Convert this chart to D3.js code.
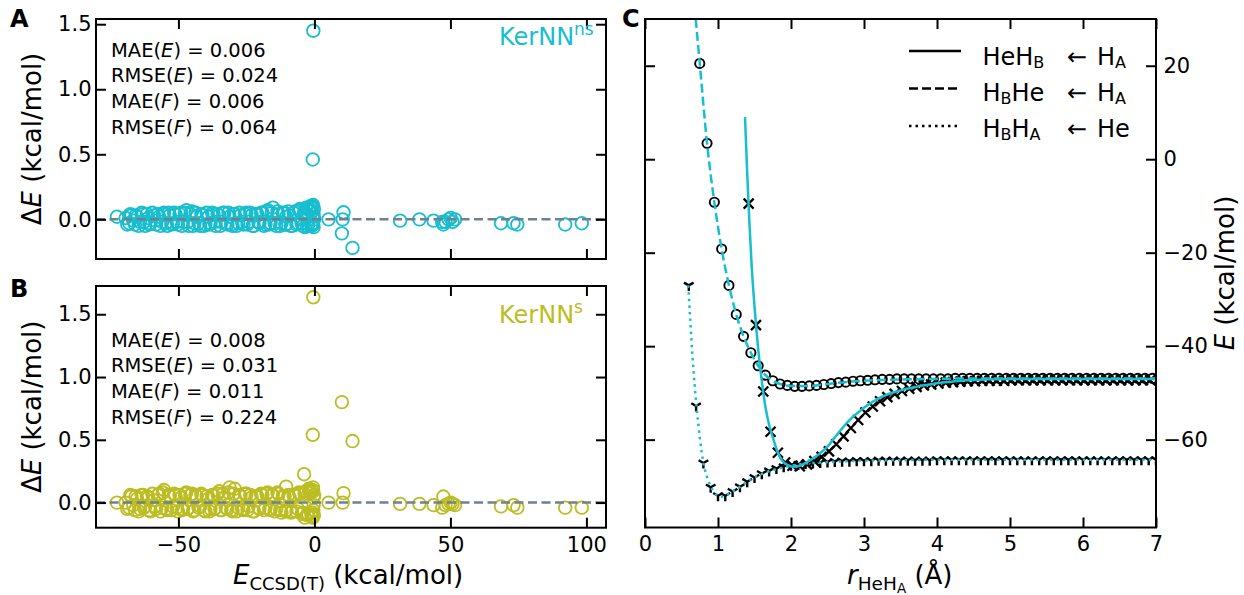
<!DOCTYPE html>
<meta charset="utf-8">
<style>
  body { margin: 0; background: #fff; }
  svg { display: block; font-family: "DejaVu Sans", sans-serif; }
  .frame { fill: none; stroke: #000; stroke-width: 2; }
  .axis line { stroke: #000; stroke-width: 2; }
  .axis text { fill: #000; }
</style>
<body>
<svg id="fig"></svg>
<script src="https://d3js.org/d3.v7.min.js"></script>
<script>
var W = 1244, H = 595;
var cyan = "#17becf", olive = "#bcbd22";

// ---- panels A / B: reference energy (shared) and errors of the two models
var eRef = [
  -69.4, -68.1, -67.3, -66.0, -65.2, -64.1, -63.0, -62.2, -61.1, -60.3,
  -59.0, -58.2, -57.1, -56.0, -55.3, -54.1, -53.2, -52.0, -51.1, -50.2,
  -49.0, -48.3, -47.1, -46.2, -45.0, -44.1, -43.3, -42.0, -41.2, -40.1,
  -39.0, -38.2, -37.1, -36.3, -35.0, -34.2, -33.1, -32.0, -31.2, -30.1,
  -29.3, -28.0, -27.2, -26.1, -25.0, -24.2, -23.1, -22.3, -21.0, -20.2,
  -19.1, -18.0, -17.2, -16.1, -15.3, -14.0, -13.2, -12.1, -11.0, -10.3,
  -9.1, -8.2, -7.0, -6.1, -5.3, -4.2, -3.1, -2.3, -1.5, -1.0,
  -68.8, -67.7, -66.6, -65.7, -64.6, -63.5, -62.7, -61.6, -60.7, -59.6,
  -58.6, -57.6, -56.6, -55.7, -54.6, -53.6, -52.6, -51.6, -50.6, -49.6,
  -48.7, -47.6, -46.6, -45.6, -44.6, -43.7, -42.6, -41.6, -40.6, -39.6,
  -38.6, -37.6, -36.7, -35.6, -34.6, -33.6, -32.6, -31.6, -30.6, -29.7,
  -28.6, -27.6, -26.6, -25.6, -24.6, -23.6, -22.7, -21.6, -20.6, -19.6,
  -18.6, -17.6, -16.6, -15.7, -14.6, -13.6, -12.6, -11.6, -10.7, -9.6,
  -8.6, -7.6, -6.6, -5.7, -4.7, -3.6, -2.7, -1.9, -1.2, -0.9,
  -0.8, -0.6, -0.5, -0.4, -0.3, -0.2, -0.1, -0.3, -0.5, -0.7, -2.0, -3.5,
  -72.6, -0.4, -0.6, -3.8, -10.4, 5.2, 10.7, 10.4, 10.1, 14.0,
  31.5, 38.6, 43.8, 47.4, 47.0, 48.2, 49.3, 50.1, 50.8, 51.7,
  68.6, 73.2, 74.6, 92.2, 98.3
];
var errNs = [
  0.01, -0.03, 0.03, -0.04, 0.02, -0.02, 0.04, -0.05, 0.01, -0.03,
  0.03, -0.04, 0.02, -0.02, 0.05, -0.05, 0.03, -0.03, 0.04, -0.04,
  0.05, -0.02, 0.07, -0.05, 0.06, -0.03, 0.02, -0.05, 0.03, -0.04,
  0.02, -0.03, 0.04, -0.05, 0.03, -0.02, 0.05, -0.04, 0.02, -0.05,
  0.04, -0.03, 0.03, -0.04, 0.05, -0.02, 0.03, -0.05, 0.04, -0.03,
  0.05, -0.04, 0.07, -0.03, 0.09, -0.05, 0.04, -0.03, 0.05, -0.04,
  0.03, -0.05, 0.06, -0.03, 0.08, -0.05, 0.09, -0.04, 0.10, -0.05,
  -0.04, 0.04, -0.01, 0.03, -0.05, 0.05, -0.02, 0.04, -0.04, 0.05,
  -0.01, 0.04, -0.05, 0.04, -0.03, 0.05, -0.04, 0.05, -0.02, 0.04,
  -0.05, 0.05, -0.02, 0.04, -0.05, 0.05, -0.03, 0.04, -0.05, 0.05,
  -0.04, 0.05, -0.02, 0.04, -0.05, 0.05, -0.03, 0.05, -0.04, 0.04,
  -0.05, 0.05, -0.02, 0.04, -0.04, 0.05, -0.05, 0.04, -0.02, 0.05,
  -0.05, 0.06, -0.04, 0.05, -0.03, 0.06, -0.05, 0.05, -0.04, 0.06,
  -0.05, 0.05, -0.04, 0.07, -0.03, 0.06, -0.05, 0.08, -0.04, 0.09,
  0.06, -0.03, 0.11, 0.02, -0.06, 0.08, 0.00, 0.04, -0.04, 0.10, 0.07, -0.06,
  0.02, 1.45, 0.46, 0.05, 0.02, 0.00, 0.054, 0.00, -0.108, -0.22,
  -0.01, 0.00, -0.01, -0.04, -0.02, -0.02, 0.00, 0.01, -0.02, 0.00,
  -0.03, -0.03, -0.04, -0.04, -0.03
];
var errS = [
  0.00, -0.04, 0.05, -0.06, 0.03, -0.05, 0.06, -0.03, 0.04, -0.07,
  0.02, -0.05, 0.07, -0.04, 0.10, -0.06, 0.05, -0.03, 0.06, -0.07,
  0.04, -0.05, 0.08, -0.04, 0.07, -0.06, 0.05, -0.03, 0.06, -0.07,
  0.03, -0.05, 0.06, -0.04, 0.09, -0.06, 0.04, -0.05, 0.12, -0.07,
  0.11, -0.04, 0.05, -0.06, 0.07, -0.03, 0.04, -0.07, 0.05, -0.05,
  0.06, -0.04, 0.08, -0.06, 0.06, -0.05, 0.07, -0.08, 0.05, -0.06,
  0.04, -0.07, 0.06, -0.05, 0.07, -0.08, 0.09, -0.09, 0.08, -0.11,
  -0.05, 0.06, -0.02, 0.05, -0.07, 0.06, -0.04, 0.05, -0.06, 0.07,
  -0.03, 0.06, -0.07, 0.08, -0.05, 0.06, -0.06, 0.07, -0.04, 0.06,
  -0.06, 0.07, -0.05, 0.06, -0.07, 0.06, -0.04, 0.07, -0.06, 0.05,
  -0.07, 0.06, -0.05, 0.07, -0.06, 0.07, -0.04, 0.08, -0.06, 0.07,
  -0.07, 0.06, -0.05, 0.07, -0.06, 0.06, -0.07, 0.05, -0.04, 0.07,
  -0.06, 0.07, -0.05, 0.06, -0.07, 0.08, -0.06, 0.05, -0.07, 0.06,
  -0.08, 0.06, -0.07, 0.08, -0.09, 0.07, -0.10, 0.09, -0.08, 0.10,
  0.10, -0.12, 0.12, -0.06, 0.04, -0.10, 0.06, -0.02, 0.09, -0.08, 0.11, -0.12,
  0.00, 1.635, 0.54, 0.226, 0.127, 0.00, 0.075, 0.00, 0.80, 0.49,
  -0.01, -0.01, -0.02, 0.048, -0.04, -0.02, -0.01, 0.00, -0.01, -0.02,
  -0.03, -0.02, -0.04, -0.04, -0.04
];
var statNames = [["MAE", "E"], ["RMSE", "E"], ["MAE", "F"], ["RMSE", "F"]];
var statsNs = ["0.006", "0.024", "0.006", "0.064"];
var statsS = ["0.008", "0.031", "0.011", "0.224"];
var scatterXTicks = [-50, 0, 50, 100];
var scatterYTicks = [0, 0.5, 1.0, 1.5];

// ---- panel C: reference points (markers) and model curves (cyan)
var rTri = [0.6, 0.7, 0.8, 0.9, 1.0, 1.1, 1.2, 1.3, 1.4, 1.5, 1.6, 1.7, 1.8, 1.9, 2.0, 2.1, 2.2, 2.3, 2.4, 2.5,
  2.6, 2.7, 2.8, 2.9, 3.0, 3.1, 3.2, 3.3, 3.4, 3.5, 3.6, 3.7, 3.8, 3.9, 4.0, 4.1, 4.2, 4.3, 4.4, 4.5,
  4.6, 4.7, 4.8, 4.9, 5.0, 5.1, 5.2, 5.3, 5.4, 5.5, 5.6, 5.7, 5.8, 5.9, 6.0, 6.1, 6.2, 6.3, 6.4, 6.5,
  6.6, 6.7, 6.8, 6.9, 7.0];
var eTri = [-27.0, -52.8, -65.0, -70.2, -72.0, -72.0, -71.1, -70.1, -69.0, -68.1, -67.3, -66.7, -66.2, -65.8, -65.5, -65.3, -65.1, -65.0, -64.9, -64.8,
  -64.7, -64.6, -64.6, -64.5, -64.5, -64.5, -64.4, -64.4, -64.4, -64.4, -64.4, -64.4, -64.4, -64.4, -64.3, -64.3, -64.3, -64.3, -64.3, -64.3,
  -64.3, -64.3, -64.3, -64.3, -64.3, -64.3, -64.3, -64.3, -64.3, -64.3, -64.3, -64.3, -64.3, -64.3, -64.3, -64.3, -64.3, -64.3, -64.3, -64.3,
  -64.3, -64.3, -64.3, -64.3, -64.3];
var rCirc = [0.75, 0.85, 0.95, 1.05, 1.15, 1.25, 1.35, 1.45, 1.55, 1.65, 1.75, 1.85, 1.95, 2.05, 2.15, 2.25, 2.35, 2.45, 2.55, 2.65,
  2.75, 2.85, 2.95, 3.05, 3.15, 3.25, 3.35, 3.45, 3.55, 3.65, 3.75, 3.85, 3.95, 4.05, 4.15, 4.25, 4.35, 4.45, 4.55, 4.65,
  4.75, 4.85, 4.95, 5.05, 5.15, 5.25, 5.35, 5.45, 5.55, 5.65, 5.75, 5.85, 5.95, 6.05, 6.15, 6.25, 6.35, 6.45, 6.55, 6.65,
  6.75, 6.85, 6.95];
var eCirc = [20.5, 3.4, -9.2, -19.2, -27.0, -33.2, -37.9, -41.4, -44.2, -46.2, -47.4, -48.1, -48.4, -48.6, -48.6, -48.5, -48.4, -48.2, -48.0, -47.8,
  -47.7, -47.5, -47.4, -47.3, -47.2, -47.1, -47.1, -47.0, -47.0, -47.0, -47.0, -47.0, -47.0, -47.0, -47.0, -46.9, -46.9, -46.9, -46.9, -46.9,
  -46.9, -46.9, -46.9, -46.9, -46.9, -46.9, -46.9, -46.9, -46.9, -46.9, -46.9, -46.9, -46.9, -46.9, -46.9, -46.9, -46.9, -46.9, -46.9, -46.9,
  -46.9, -46.9, -46.9];
var rCross = [1.42, 1.52, 1.62, 1.72, 1.82, 1.92, 2.02, 2.12, 2.22, 2.32, 2.42, 2.52, 2.62, 2.72, 2.82, 2.92, 3.02, 3.12, 3.22, 3.32,
  3.42, 3.52, 3.62, 3.72, 3.82, 3.92, 4.02, 4.12, 4.22, 4.32, 4.42, 4.52, 4.62, 4.72, 4.82, 4.92, 5.02, 5.12, 5.22, 5.32,
  5.42, 5.52, 5.62, 5.72, 5.82, 5.92, 6.02, 6.12, 6.22, 6.32, 6.42, 6.52, 6.62, 6.72, 6.82, 6.92];
var eCross = [-9.5, -35.5, -49.7, -58.3, -62.8, -64.9, -65.6, -65.7, -65.3, -64.6, -63.7, -62.5, -61.0, -59.3, -57.5, -55.8, -54.2, -52.9, -51.8, -50.9,
  -50.2, -49.6, -49.1, -48.7, -48.4, -48.2, -48.0, -47.8, -47.7, -47.6, -47.5, -47.5, -47.4, -47.4, -47.4, -47.4, -47.3, -47.3, -47.3, -47.3,
  -47.3, -47.3, -47.3, -47.3, -47.3, -47.3, -47.3, -47.3, -47.3, -47.3, -47.3, -47.3, -47.3, -47.3, -47.3, -47.3];

var solidR = [1.37, 1.40, 1.43, 1.46, 1.50, 1.55, 1.60, 1.65, 1.70, 1.76, 1.82, 1.88, 1.95, 2.03, 2.12, 2.21, 2.30, 2.40, 2.50, 2.58,
  2.67, 2.76, 2.85, 2.95, 3.04, 3.13, 3.22, 3.31, 3.42, 3.54, 3.66, 3.77, 3.90, 4.02, 4.20, 4.40, 4.70, 5.00, 5.50, 6.00, 6.50, 7.00];
var solidE = [9.0, -3.0, -13.5, -22.5, -31.5, -40.5, -47.5, -53.0, -56.8, -60.0, -62.8, -64.5, -65.4, -65.8, -65.6, -64.9, -64.0, -62.9, -61.5, -59.9,
  -58.2, -56.5, -55.1, -53.8, -52.7, -51.8, -51.0, -50.4, -49.8, -49.3, -48.9, -48.5, -48.2, -47.9, -47.6, -47.3, -47.1, -47.0, -47.0, -47.0, -47.0, -47.0];
var dashR = [0.695, 0.75, 0.85, 0.95, 1.05, 1.15, 1.25, 1.35, 1.45, 1.55, 1.65, 1.75, 1.85, 2.0, 2.2, 2.4, 2.6, 2.8, 3.0, 3.3, 3.6, 4.0, 4.5, 5.0, 6.0, 7.0];
var dashE = [30.0, 20.5, 3.4, -9.2, -19.2, -27.0, -33.2, -37.9, -41.4, -44.2, -46.2, -47.4, -48.1, -48.5, -48.5, -48.3, -47.9, -47.6, -47.4, -47.2, -47.1, -47.0, -46.9, -46.9, -46.9, -46.9];
var dotR = [0.593, 0.65, 0.708, 0.75, 0.80, 0.85, 0.90, 0.95, 1.0, 1.05, 1.1, 1.2, 1.3, 1.4, 1.5, 1.62, 1.75, 1.85, 2.0, 2.16, 2.4, 2.62, 3.0, 3.5, 4.0, 5.0, 6.0, 7.0];
var dotE = [-27.0, -42.0, -53.3, -59.5, -65.0, -68.0, -70.0, -71.3, -72.0, -72.2, -72.0, -71.1, -70.1, -69.0, -68.1, -67.2, -66.5, -66.1, -65.6, -65.2, -64.9, -64.7, -64.5, -64.4, -64.3, -64.3, -64.3, -64.3];
var cXTicks = [0, 1, 2, 3, 4, 5, 6, 7];
var cYTicks = [-60, -40, -20, 0, 20];
var legendRows = [
  { dash: null, left: [["HeH", ""], ["B", "sub"]], right: [["H", ""], ["A", "sub"]] },
  { dash: "9,4", left: [["H", ""], ["B", "sub"], ["He", ""]], right: [["H", ""], ["A", "sub"]] },
  { dash: "2.5,4", left: [["H", ""], ["B", "sub"], ["H", ""], ["A", "sub"]], right: [["He", ""]] }
];

var svg = d3.select("#fig").attr("width", W).attr("height", H);
svg.append("rect").attr("width", W).attr("height", H).attr("fill", "#fff");

function drawAxes(g, x, y, o) {
  var xl = x.range()[0], xr = x.range()[1], yb = y.range()[0], yt = y.range()[1];
  var ax = [
    [d3.axisBottom(x).tickValues(o.xTicks).tickSize(-10).tickPadding(9).tickFormat(o.xLabels ? d3.format("d") : ""), 0, yb],
    [d3.axisTop(x).tickValues(o.xTicks).tickSize(-10).tickFormat(""), 0, yt],
    [d3.axisLeft(y).tickValues(o.yTicks).tickSize(-10).tickPadding(4.5).tickFormat(o.yLeft ? o.yFormat : ""), xl, 0],
    [d3.axisRight(y).tickValues(o.yTicks).tickSize(-10).tickPadding(7.5).tickFormat(o.yRight ? o.yFormat : ""), xr, 0]
  ];
  ax.forEach(function (a) {
    var s = g.append("g").attr("class", "axis")
      .attr("transform", "translate(" + a[1] + "," + a[2] + ")")
      .call(a[0]);
    s.attr("font-size", 21).attr("font-family", null);
    s.select(".domain").remove();
  });
  g.append("rect").attr("class", "frame")
    .attr("x", xl).attr("y", yt).attr("width", xr - xl).attr("height", yb - yt);
}

// ---------- scatter panels ----------
function scatterPanel(top, bottom, yDomain, errs, color, stats, name, sup, statY, nameY, letter, letterY, xLabels) {
  var x = d3.scaleLinear().domain([-80.3, 107.2]).range([96, 606]);
  var y = d3.scaleLinear().domain(yDomain).range([bottom, top]);
  var g = svg.append("g");

  g.append("g").selectAll("circle")
    .data(eRef)
    .join("circle")
    .attr("cx", function (d) { return x(d); })
    .attr("cy", function (d, i) { return y(errs[i]); })
    .attr("r", 6.3)
    .attr("fill", "none")
    .attr("stroke", color)
    .attr("stroke-width", 1.8);

  g.append("line")
    .attr("x1", 96).attr("x2", 606)
    .attr("y1", y(0)).attr("y2", y(0))
    .attr("stroke", "#708090").attr("stroke-width", 2.5)
    .attr("stroke-dasharray", "9,4.5");

  drawAxes(g, x, y, { xTicks: scatterXTicks, yTicks: scatterYTicks, xLabels: xLabels, yLeft: true, yFormat: d3.format(".1f") });

  // stats box
  statNames.forEach(function (s, i) {
    var t = g.append("text").attr("x", 111).attr("y", statY + i * 25.6).attr("font-size", 19.5);
    t.append("tspan").text(s[0] + "(");
    t.append("tspan").attr("font-style", "italic").text(s[1]);
    t.append("tspan").text(") = " + stats[i]);
  });

  var k = g.append("text").attr("x", 499).attr("y", nameY).attr("font-size", 24).attr("fill", color);
  k.append("tspan").text(name);
  k.append("tspan").attr("font-size", 17).attr("dy", -10).text(sup);

  var yl = g.append("text")
    .attr("transform", "translate(41," + ((top + bottom) / 2) + ") rotate(-90)")
    .attr("text-anchor", "middle").attr("font-size", 26);
  yl.append("tspan").text("Δ");
  yl.append("tspan").attr("font-style", "italic").text("E");
  yl.append("tspan").text(" (kcal/mol)");

  svg.append("text").attr("x", 10).attr("y", letterY).attr("font-size", 24).attr("font-weight", "bold").text(letter);
}

scatterPanel(19, 259, [-0.305, 1.54], errNs, cyan, statsNs, "KerNN", "ns", 56.7, 45, "A", 27, false);
scatterPanel(286, 527.7, [-0.2, 1.725], errS, olive, statsS, "KerNN", "s", 346.7, 322.7, "B", 296.5, true);

var xl = svg.append("text").attr("x", 233).attr("y", 583.5).attr("font-size", 26);
xl.append("tspan").attr("font-style", "italic").text("E");
xl.append("tspan").attr("font-size", 18).attr("dy", 6).text("CCSD(T)");
xl.append("tspan").attr("dy", -6).text(" (kcal/mol)");

// ---------- panel C ----------
var cx = d3.scaleLinear().domain([0, 7]).range([645, 1156]);
var cy = d3.scaleLinear().domain([-78.8, 30]).range([527.5, 19]);
var gc = svg.append("g");

svg.append("clipPath").attr("id", "clipC")
  .append("rect").attr("x", 645).attr("y", 19).attr("width", 511).attr("height", 508.5);

var plot = gc.append("g").attr("clip-path", "url(#clipC)");

// reference markers
plot.append("g").selectAll("circle")
  .data(rCirc)
  .join("circle")
  .attr("cx", function (d) { return cx(d); })
  .attr("cy", function (d, i) { return cy(eCirc[i]); })
  .attr("r", 4.6)
  .attr("fill", "none").attr("stroke", "#000").attr("stroke-width", 1.9);

plot.append("g").selectAll("path")
  .data(rCross)
  .join("path")
  .attr("transform", function (d, i) { return "translate(" + cx(d) + "," + cy(eCross[i]) + ")"; })
  .attr("d", "M-5,-5L5,5M-5,5L5,-5")
  .attr("stroke", "#000").attr("stroke-width", 2.3).attr("fill", "none");

plot.append("g").selectAll("path")
  .data(rTri)
  .join("path")
  .attr("transform", function (d, i) { return "translate(" + cx(d) + "," + cy(eTri[i]) + ")"; })
  .attr("d", "M0,0L0,5.5M0,0L-4.8,-2.8M0,0L4.8,-2.8")
  .attr("stroke", "#000").attr("stroke-width", 2.4).attr("fill", "none");

// model curves
var line = d3.line()
  .x(function (d) { return cx(d[0]); })
  .y(function (d) { return cy(d[1]); })
  .curve(d3.curveMonotoneX);

[[solidR, solidE, null], [dashR, dashE, "9,4"], [dotR, dotE, "2.5,4.1"]].forEach(function (s) {
  plot.append("path")
    .datum(d3.zip(s[0], s[1]))
    .attr("d", line)
    .attr("fill", "none")
    .attr("stroke", cyan)
    .attr("stroke-width", 2.5)
    .attr("stroke-dasharray", s[2]);
});

drawAxes(gc, cx, cy, { xTicks: cXTicks, yTicks: cYTicks, xLabels: true, yRight: true, yFormat: d3.format("d") });

// legend
var legY = [51, 88.5, 126];
var legBase = [65, 101, 137];
legendRows.forEach(function (row, i) {
  gc.append("line")
    .attr("x1", 909).attr("x2", 961)
    .attr("y1", legY[i]).attr("y2", legY[i])
    .attr("stroke", "#000").attr("stroke-width", 2.5)
    .attr("stroke-dasharray", row.dash);
  [[row.left, 982.5], [[["←", ""]], 1067], [row.right, 1097]].forEach(function (part) {
    var t = gc.append("text").attr("x", part[1]).attr("y", legBase[i]).attr("font-size", 24);
    var shifted = false;
    part[0].forEach(function (p) {
      var ts = t.append("tspan").text(p[0]);
      if (p[1] === "sub") { ts.attr("font-size", 16).attr("dy", 3); shifted = true; }
      else if (shifted) { ts.attr("dy", -3); shifted = false; }
    });
  });
});

var cxl = gc.append("text").attr("x", 847).attr("y", 583.5).attr("font-size", 26);
cxl.append("tspan").attr("font-style", "italic").text("r");
cxl.append("tspan").attr("font-size", 18.5).attr("dy", 6).text("HeH");
cxl.append("tspan").attr("font-size", 13.5).attr("dy", 3).text("A");
cxl.append("tspan").attr("dy", -9).text(" (Å)");

var cyl = gc.append("text")
  .attr("transform", "translate(1234,273) rotate(-90)")
  .attr("text-anchor", "middle").attr("font-size", 26);
cyl.append("tspan").attr("font-style", "italic").text("E");
cyl.append("tspan").text(" (kcal/mol)");

svg.append("text").attr("x", 622).attr("y", 27).attr("font-size", 24).attr("font-weight", "bold").text("C");
</script>
</body>
